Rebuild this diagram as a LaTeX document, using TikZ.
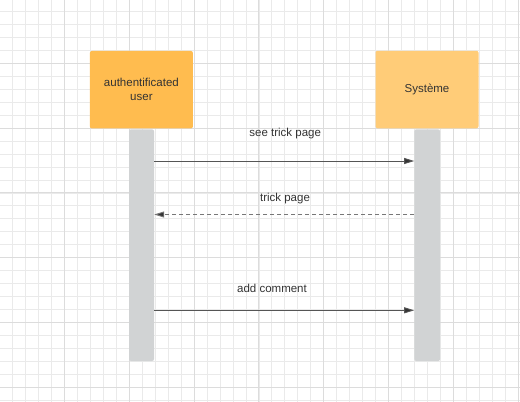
\documentclass[tikz,border=0pt]{standalone}
\usepackage{fontspec}
\setmainfont{Liberation Sans}
\usetikzlibrary{arrows.meta}
\definecolor{gridminor}{HTML}{EAEAEA}
\definecolor{gridmajor}{HTML}{DCDCDC}
\definecolor{actorA}{HTML}{FFBC4F}
\definecolor{actorB}{HTML}{FFCC78}
\definecolor{lifebar}{HTML}{D1D3D4}
\definecolor{txt}{HTML}{333333}
\definecolor{msgline}{HTML}{555555}
\definecolor{replyline}{HTML}{777777}
\tikzset{
  actor/.style={rectangle, rounded corners=2pt, draw=none, minimum width=103pt, minimum height=77.5pt, align=center, text=txt, font=\fontsize{11.5}{13.7}\selectfont, inner sep=0pt},
  bar/.style={rectangle, rounded corners=2pt, fill=lifebar, draw=none, minimum height=231.7pt, inner sep=0pt},
  msg/.style={draw=msgline, line width=0.9pt, -{Triangle[length=10pt,width=6pt,fill=txt]}},
  reply/.style={msg, draw=replyline, dash pattern=on 4.5pt off 2.5pt},
  lbl/.style={text=txt, font=\fontsize{11.5}{13.7}\selectfont, inner sep=0pt}
}
\begin{document}
\begin{tikzpicture}[x=1pt,y=-1pt]
\useasboundingbox (0,0) rectangle (520,402);
\fill[white] (0,0) rectangle (520,402);
% grid
\foreach \k in {0,...,40}{
  \pgfmathsetmacro{\gx}{-0.3+12.96*\k}
  \pgfmathsetmacro{\gy}{-1.5+12.96*\k}
  \draw[gridminor, line width=0.8pt] (\gx,0) -- (\gx,402);
  \draw[gridminor, line width=0.8pt] (0,\gy) -- (520,\gy);
}
\foreach \k in {0,...,8}{
  \pgfmathsetmacro{\gx}{-0.3+64.8*\k}
  \pgfmathsetmacro{\gy}{-1.5+64.8*\k}
  \draw[gridmajor, line width=0.9pt] (\gx,0) -- (\gx,402);
  \draw[gridmajor, line width=0.9pt] (0,\gy) -- (520,\gy);
}
% actors
\node[actor, fill=actorA] (user) at (141.4,89.7) {authentificated\\user};
\node[actor, fill=actorB] (sys) at (427,89.5) {Système};
% lifelines
\node[bar, minimum width=25pt] (ubar) at (141.5,245.2) {};
\node[bar, minimum width=25.7pt] (sbar) at (427.2,245.2) {};
% message rows
\coordinate (r1) at (0,161);
\coordinate (r2) at (0,214.5);
\coordinate (r3) at (0,310.3);
\draw[msg] (ubar.east |- r1) -- (sbar.west |- r1);
\draw[reply] (sbar.west |- r2) -- (ubar.east |- r2);
\draw[msg] (ubar.east |- r3) -- (sbar.west |- r3);
\node[lbl] (l1) at (285.2,133.5) {see trick page};
\node[lbl] (l2) at (285,198.5) {trick page};
\node[lbl] (l3) at (272,288.3) {add comment};
\end{tikzpicture}
\end{document}
